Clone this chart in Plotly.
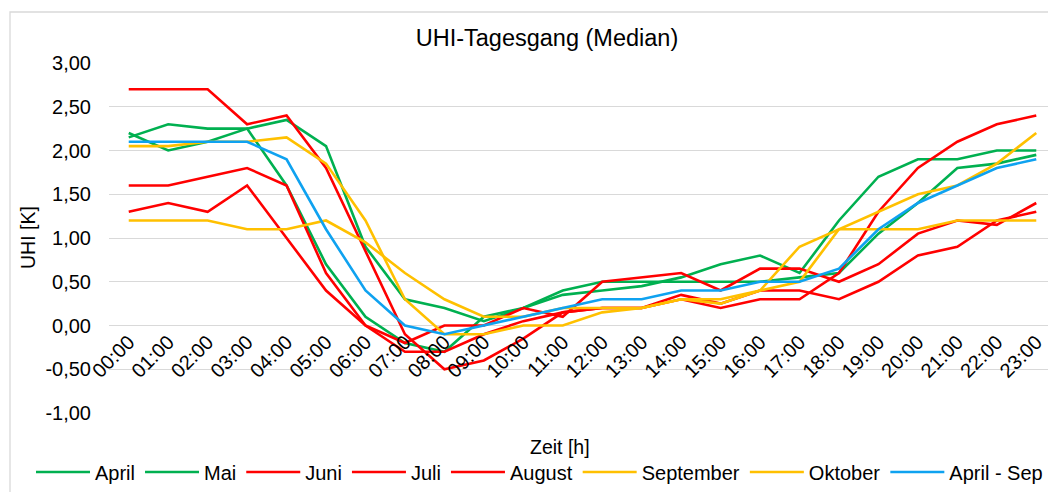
import plotly.graph_objects as go

hours = ["00:00", "01:00", "02:00", "03:00", "04:00", "05:00", "06:00", "07:00",
         "08:00", "09:00", "10:00", "11:00", "12:00", "13:00", "14:00", "15:00",
         "16:00", "17:00", "18:00", "19:00", "20:00", "21:00", "22:00", "23:00"]

april = [2.20, 2.00, 2.10, 2.25, 2.35, 2.05, 0.90, 0.30, 0.20, 0.05, 0.20, 0.35,
         0.40, 0.45, 0.55, 0.70, 0.80, 0.60, 1.20, 1.70, 1.90, 1.90, 2.00, 2.00]
mai = [2.15, 2.30, 2.25, 2.25, 1.60, 0.70, 0.10, -0.20, -0.30, 0.10, 0.20, 0.40,
       0.50, 0.50, 0.50, 0.50, 0.50, 0.55, 0.60, 1.05, 1.40, 1.80, 1.85, 1.95]
juni = [2.70, 2.70, 2.70, 2.30, 2.40, 1.80, 0.85, -0.10, -0.50, -0.40, -0.15, 0.15,
        0.20, 0.20, 0.30, 0.20, 0.30, 0.30, 0.60, 1.30, 1.80, 2.10, 2.30, 2.40]
juli = [1.60, 1.60, 1.70, 1.80, 1.60, 0.60, 0.00, -0.20, 0.00, 0.00, 0.20, 0.10,
        0.50, 0.55, 0.60, 0.40, 0.65, 0.65, 0.50, 0.70, 1.05, 1.20, 1.15, 1.40]
august = [1.30, 1.40, 1.30, 1.60, 1.00, 0.40, 0.00, -0.30, -0.30, -0.10, 0.05, 0.15,
          0.20, 0.20, 0.35, 0.25, 0.40, 0.40, 0.30, 0.50, 0.80, 0.90, 1.20, 1.30]
september = [2.05, 2.05, 2.10, 2.10, 2.15, 1.85, 1.20, 0.30, -0.10, -0.10, 0.00, 0.00,
             0.15, 0.20, 0.30, 0.25, 0.40, 0.50, 1.10, 1.30, 1.50, 1.60, 1.85, 2.20]
oktober = [1.20, 1.20, 1.20, 1.10, 1.10, 1.20, 0.95, 0.60, 0.30, 0.10, 0.10, 0.20,
           0.20, 0.20, 0.30, 0.30, 0.40, 0.90, 1.10, 1.10, 1.10, 1.20, 1.20, 1.20]
april_sep = [2.10, 2.10, 2.10, 2.10, 1.90, 1.10, 0.40, 0.00, -0.10, 0.00, 0.10, 0.20,
             0.30, 0.30, 0.40, 0.40, 0.50, 0.50, 0.65, 1.10, 1.40, 1.60, 1.80, 1.90]

series_names = ["April", "Mai", "Juni", "Juli", "August", "September", "Oktober", "April - Sep"]
series_values = [april, mai, juni, juli, august, september, oktober, april_sep]
series_colors = ["#00B050", "#00B050", "#FF0000", "#FF0000", "#FF0000",
                 "#FFC000", "#FFC000", "#0FA2F0"]

y_tickvals = [3.0, 2.5, 2.0, 1.5, 1.0, 0.5, 0.0, -0.5, -1.0]
y_ticktext = ["3,00", "2,50", "2,00", "1,50", "1,00", "0,50", "0,00", "-0,50", "-1,00"]

FONT = "Liberation Sans, Arial, sans-serif"
# the page body has an 8px margin; size the figure so it fits the 1056x492 window
OFF = 8
W, H = 1056 - OFF, 492 - OFF
ML, MR, MT, MB = 101, 0, 55, 79
PW, PH = W - ML - MR, H - MT - MB


def px_x(p):
    """window pixel x -> paper x"""
    return (p - OFF - ML) / PW


def px_y(p):
    """window pixel y -> paper y"""
    return (H - MB - (p - OFF)) / PH


fig = go.Figure()
for name, vals, col in zip(series_names, series_values, series_colors):
    fig.add_trace(go.Scatter(x=hours, y=vals, name=name, mode="lines",
                             line=dict(color=col, width=2.6)))

fig.update_layout(
    width=W, height=H,
    margin=dict(l=ML, r=MR, t=MT, b=MB, autoexpand=False),
    paper_bgcolor="white", plot_bgcolor="white",
    font=dict(family=FONT, color="#000000", size=20),
    title=dict(text="UHI-Tagesgang (Median)", x=px_x(547), xref="paper",
               xanchor="center", y=1 - (38 - OFF) / H, yanchor="middle",
               font=dict(size=23.5, family=FONT, color="#000000")),
    showlegend=True,
    legend=dict(orientation="h", x=px_x(31), xanchor="left",
                y=px_y(472), yanchor="middle",
                font=dict(size=20, family=FONT, color="#000000"),
                itemwidth=54, bgcolor="rgba(0,0,0,0)"),
    xaxis=dict(type="category", range=[-0.5, 23.5], anchor="free", position=0.25,
               showgrid=False, zeroline=False, showline=False, ticks="",
               tickangle=-45, tickfont=dict(size=20, family=FONT, color="#000000")),
    yaxis=dict(range=[-1.0, 3.0], tickvals=y_tickvals, ticktext=y_ticktext,
               showgrid=True, gridcolor="#D9D9D9", gridwidth=1.4, zeroline=False,
               showline=False, ticks="outside", ticklen=13, tickcolor="rgba(0,0,0,0)",
               tickfont=dict(size=20, family=FONT, color="#000000")),
    annotations=[
        dict(text="UHI [K]", xref="paper", yref="paper", x=px_x(28), y=0.5,
             textangle=-90, showarrow=False, xanchor="center", yanchor="middle",
             font=dict(size=19.5, family=FONT, color="#000000")),
        dict(text="Zeit [h]", xref="paper", yref="paper", x=px_x(560), y=px_y(447),
             showarrow=False, xanchor="center", yanchor="middle",
             font=dict(size=19.5, family=FONT, color="#000000")),
    ],
    shapes=[
        dict(type="rect", xref="paper", yref="paper", x0=px_x(10), x1=px_x(1070),
             y0=px_y(510), y1=px_y(12), line=dict(color="#D9D9D9", width=1.3),
             fillcolor="rgba(0,0,0,0)", layer="below"),
    ],
)

fig.write_html("out.html")
